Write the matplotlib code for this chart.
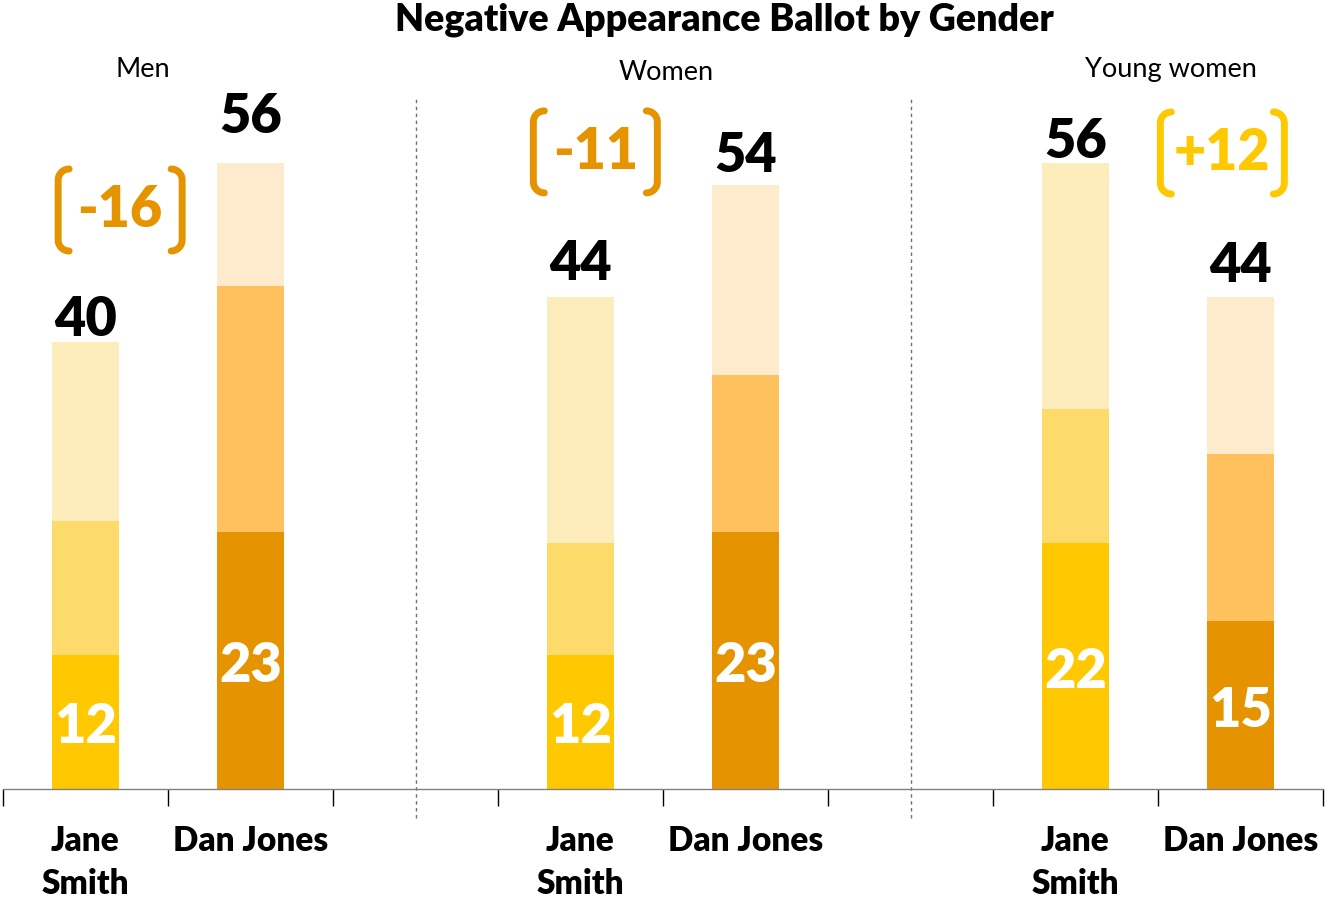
import matplotlib.pyplot as plt
import numpy as np

plt.rcParams['font.family'] = ['Lato', 'DejaVu Sans']

groups = ["Men", "Women", "Young women"]
candidates = ["Jane\nSmith", "Dan Jones"]

# stacked segments (bottom, middle, top) per candidate per group
jane_bottom = [12, 12, 22]
jane_middle = [12, 10, 12]
jane_top = [16, 22, 22]
dan_bottom = [23, 23, 15]
dan_middle = [22, 14, 15]
dan_top = [11, 17, 14]

jane_total = [40, 44, 56]
dan_total = [56, 54, 44]
diff_labels = ["-16", "-11", "+12"]

jane_colors = ["#FFC800", "#FDDB6B", "#FEEDBC"]
dan_colors = ["#E59400", "#FFC15E", "#FEEACD"]
diff_colors = ["#E59400", "#E59400", "#FFC800"]

# gap (px) between bar top and total label, as in the reference
jane_gap = [6, 17, 5]
dan_gap = [30, 13, 15]

fig = plt.figure(figsize=(13.25, 9.01), dpi=100)
ax = fig.add_axes([3 / 1325, 112 / 901, 1320 / 1325, 693 / 901])

xj = np.array([0, 3, 6])
xd = xj + 1
w = 0.41
wt = 'heavy'

def stack(x, segs, colors):
    b = np.zeros(len(x))
    for s, c in zip(segs, colors):
        ax.bar(x, s, w, bottom=b, color=c, linewidth=0, zorder=2)
        b = b + np.array(s)

stack(xj, [jane_bottom, jane_middle, jane_top], jane_colors)
stack(xd, [dan_bottom, dan_middle, dan_top], dan_colors)

for i in range(3):
    for x, tot, bot, gap in [(xj[i], jane_total[i], jane_bottom[i], jane_gap[i]),
                             (xd[i], dan_total[i], dan_bottom[i], dan_gap[i])]:
        ax.annotate(str(tot), (x, tot), xytext=(0, gap * 0.72), textcoords='offset points',
                    ha='center', va='baseline', fontsize=39, fontweight=wt, color='black')
        ax.annotate(str(bot), (x, bot / 2), xytext=(0, -4), textcoords='offset points',
                    ha='center', va='center', fontsize=39, fontweight=wt, color='white')

ax.set_xlim(-0.5, 7.5)
ax.set_ylim(0, 62)

# group headers
header_x = [0.35, 3.52, 6.58]
header_y = [64.4, 64.1, 64.4]
for gx, gy, g in zip(header_x, header_y, groups):
    ax.text(gx, gy, g, ha='center', va='center', fontsize=19.5, clip_on=False)

# difference callouts with brackets
diff_x = [0.21, 3.09, 6.89]
diff_y = [51.8, 57.0, 56.9]

def bracket(x, y, side, color):
    # rounded square bracket drawn in pixel offsets around (x, y)
    h, r, dx = 41, 11, 62 * side
    t = np.linspace(0, np.pi / 2, 14)
    top_x = dx - side * r + side * r * np.sin(t)
    top_y = h - r + r * np.cos(t)
    xs = np.concatenate([top_x, top_x[::-1]])
    ys = np.concatenate([top_y, -top_y[::-1]])
    pts = ax.transData.transform((x, y))
    line = plt.Line2D(pts[0] + xs, pts[1] + ys, transform=None, color=color, lw=5,
                      solid_capstyle='round', solid_joinstyle='round', clip_on=False)
    fig.add_artist(line)

for dx_, dy_, lab, c in zip(diff_x, diff_y, diff_labels, diff_colors):
    ax.text(dx_, dy_, lab, ha='center', va='center', fontsize=40, fontweight=wt, color=c)
    bracket(dx_, dy_, -1, c)
    bracket(dx_, dy_, 1, c)

# dividers between panels
for xv in [2, 5]:
    ax.plot([xv, xv], [-2.6, 61.8], ls=(0, (2.5, 2.5)), color='#707070', lw=1, clip_on=False)

ax.set_xticks(list(xj) + list(xd))
ax.set_xticklabels(candidates[:1] * 3 + candidates[1:] * 3, fontsize=24, fontweight=wt,
                   linespacing=1.42, va='top')
ax.set_xticks(np.arange(-0.5, 8.0, 1), minor=True)
ax.tick_params(axis='x', which='major', length=0, pad=26)
ax.tick_params(axis='x', which='minor', length=12, width=1, color='black')
ax.set_yticks([])
for s in ['top', 'left', 'right']:
    ax.spines[s].set_visible(False)
ax.spines['bottom'].set_color('#808080')
ax.spines['bottom'].set_linewidth(1)

fig.text(724 / 1325, 1 - 20 / 901, "Negative Appearance Ballot by Gender", ha='center', va='center',
         fontsize=27, fontweight=wt)

fig.savefig('out.png', dpi=100)
